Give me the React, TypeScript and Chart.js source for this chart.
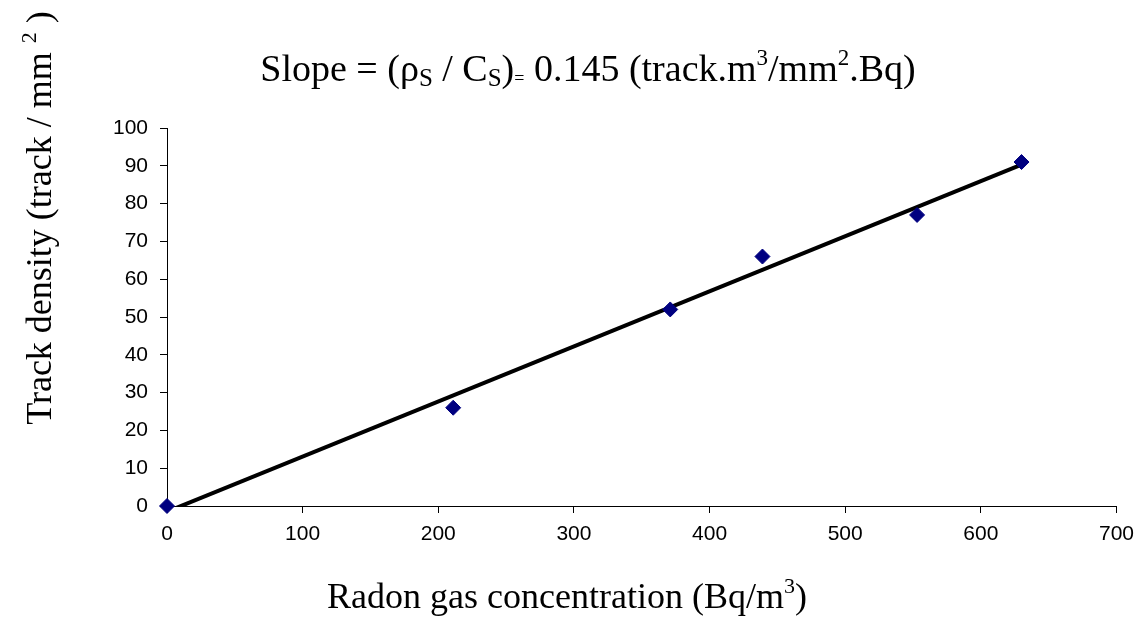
import React, { useEffect, useRef } from "react";
import { Chart, registerables } from "chart.js";

Chart.register(...registerables);

// Measured data points (Radon gas concentration, Track density)
const radonConc: number[] = [0, 211, 371, 439, 553, 630];
const trackDensity: number[] = [0, 26, 52, 66, 77, 91];

// Linear trendline endpoints (slope ≈ 0.145)
const trendX: number[] = [0, 630];
const trendY: number[] = [-1.5, 90.3];

const xTickMin = 0;
const xTickMax = 700;
const xTickStep = 100;
const yTickMin = 0;
const yTickMax = 100;
const yTickStep = 10;

type Seg = { t: string; size: number; dy?: number };

const titleSegs: Seg[] = [
  { t: "Slope = (ρ", size: 38 },
  { t: "S", size: 25, dy: 5 },
  { t: " / C", size: 38 },
  { t: "S", size: 25, dy: 5 },
  { t: ")", size: 38 },
  { t: "=", size: 18, dy: 3 },
  { t: " 0.145 (track.m", size: 38 },
  { t: "3", size: 23, dy: -16 },
  { t: "/mm", size: 38 },
  { t: "2", size: 23, dy: -16 },
  { t: ".Bq)", size: 38 },
];

const yLabelSegs: Seg[] = [
  { t: "Track density (track / mm ", size: 36 },
  { t: "2", size: 22, dy: -15 },
  { t: " )", size: 36 },
];

const xLabelSegs: Seg[] = [
  { t: "Radon gas concentration (Bq/m", size: 36 },
  { t: "3", size: 22, dy: -15 },
  { t: ")", size: 36 },
];

const SERIF = "'Liberation Serif', 'Times New Roman', serif";
const SANS = "'Liberation Sans', Arial, sans-serif";

function drawRich(ctx: CanvasRenderingContext2D, segs: Seg[], cx: number, baseY: number) {
  let total = 0;
  const widths: number[] = [];
  for (const s of segs) {
    ctx.font = `${s.size}px ${SERIF}`;
    const w = ctx.measureText(s.t).width;
    widths.push(w);
    total += w;
  }
  let x = cx - total / 2;
  ctx.textAlign = "left";
  ctx.textBaseline = "alphabetic";
  ctx.fillStyle = "#000";
  segs.forEach((s, i) => {
    ctx.font = `${s.size}px ${SERIF}`;
    ctx.fillText(s.t, x, baseY + (s.dy || 0));
    x += widths[i];
  });
}

const textPlugin = {
  id: "richTexts",
  afterDraw(chart: any) {
    const ctx: CanvasRenderingContext2D = chart.ctx;
    ctx.save();
    drawRich(ctx, titleSegs, 588, 81);
    drawRich(ctx, xLabelSegs, 567, 608);
    ctx.translate(51, 218);
    ctx.rotate(-Math.PI / 2);
    drawRich(ctx, yLabelSegs, 0, 0);
    ctx.restore();
  },
};

export default function App() {
  const canvasRef = useRef<HTMLCanvasElement | null>(null);

  useEffect(() => {
    document.body.style.margin = "0";
    const canvas = canvasRef.current;
    if (!canvas) return;
    const chart = new Chart(canvas, {
      type: "scatter",
      data: {
        datasets: [
          {
            label: "Trend",
            data: trendX.map((x, i) => ({ x, y: trendY[i] })),
            showLine: true,
            borderColor: "#000",
            borderWidth: 4,
            pointRadius: 0,
            pointHoverRadius: 0,
            fill: false,
            order: 2,
          },
          {
            label: "Data",
            data: radonConc.map((x, i) => ({ x, y: trackDensity[i] })),
            pointStyle: "rectRot",
            pointRadius: 7.5,
            backgroundColor: "#000080",
            borderColor: "#000080",
            borderWidth: 1,
            showLine: false,
            clip: false,
            order: 1,
          },
        ],
      },
      options: {
        animation: false,
        responsive: false,
        maintainAspectRatio: false,
        devicePixelRatio: 1,
        layout: { padding: { top: 128, right: 25, bottom: 0, left: 0 } },
        plugins: {
          legend: { display: false },
          title: { display: false },
          tooltip: { enabled: false },
        },
        scales: {
          x: {
            type: "linear",
            min: xTickMin,
            max: xTickMax,
            afterFit: (s: any) => {
              s.height = 130;
            },
            ticks: {
              stepSize: xTickStep,
              color: "#000",
              font: { family: SANS, size: 21 },
              padding: 9,
              maxRotation: 0,
            },
            grid: {
              display: true,
              drawOnChartArea: false,
              drawTicks: true,
              tickLength: 7,
              color: "#000",
            },
            border: { display: true, color: "#000", width: 1 },
          },
          y: {
            type: "linear",
            min: yTickMin,
            max: yTickMax,
            afterFit: (s: any) => {
              s.width = 167;
            },
            ticks: {
              stepSize: yTickStep,
              color: "#000",
              font: { family: SANS, size: 21 },
              padding: 12,
            },
            grid: {
              display: true,
              drawOnChartArea: false,
              drawTicks: true,
              tickLength: 7,
              color: "#000",
            },
            border: { display: true, color: "#000", width: 1 },
          },
        },
      },
      plugins: [textPlugin],
    } as any);
    return () => chart.destroy();
  }, []);

  return (
    <div style={{ width: 1143, height: 636, background: "#fff" }}>
      <canvas ref={canvasRef} width={1143} height={636} style={{ display: "block" }} />
    </div>
  );
}
